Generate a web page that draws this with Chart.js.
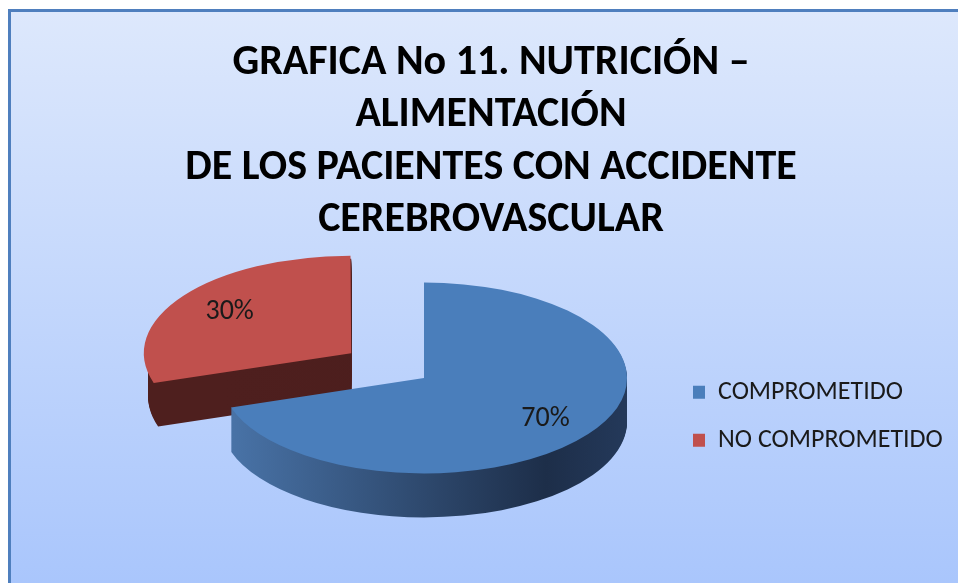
<!DOCTYPE html>
<html>
<head>
<meta charset="utf-8">
<script src="https://cdn.jsdelivr.net/npm/chart.js@4.4.1/dist/chart.umd.min.js"></script>
<style>
  html, body { margin: 0; padding: 0; background: #fff; width: 958px; height: 583px; overflow: hidden; }
  #frame {
    position: absolute; left: 8px; top: 9px; width: 980px; height: 620px;
    border-left: 3px solid #4f7fbe; border-top: 3px solid #4f7fbe;
    background: linear-gradient(#dde8fc, #a5c3fc);
  }
  #chart { position: absolute; left: 0; top: 0; }
</style>
</head>
<body>
<div id="frame"><canvas id="chart" width="960" height="600"></canvas></div>
<script>
// datos de la grafica
const categorias = ["COMPROMETIDO", "NO COMPROMETIDO"];
const porcentajes = [70, 30];
const titulo = [
  "GRAFICA No 11. NUTRICIÓN –",
  "ALIMENTACIÓN",
  "DE LOS PACIENTES CON ACCIDENTE",
  "CEREBROVASCULAR",
];

const colores = ["#4a7ebb", "#c0504d"];
// colores del borde lateral (efecto 3D)
const coloresLado = [
  [[0, "#4a75aa"], [0.8, "#1d2e49"], [1, "#24395a"]],
  [[0, "#4e1f1e"], [1, "#4a1d1c"]],
];

const fuente = "Carlito, 'Liberation Sans Narrow', 'DejaVu Sans Condensed', sans-serif";
const tamLeyenda = 26;
const cajaLeyenda = 12;
const padLeyenda = 22;
const INCLINACION = 0.47; // aplastado vertical del pastel
const PROFUNDIDAD = 44;   // grosor en px
const POS_ETIQUETA = 0.74;

// posiciones buscadas (px del canvas): centro del titulo, centro del pastel, inicio de la leyenda
const CENTRO_TITULO = 480;
const CENTRO_PASTEL = 413;
const INICIO_LEYENDA = 660;

// ancho que Chart.js dara a la leyenda
const medir = document.createElement("canvas").getContext("2d");
medir.font = tamLeyenda + "px " + fuente;
const anchoTexto = Math.max(...categorias.map((t) => medir.measureText(t).width));
const anchoLeyenda = padLeyenda + cajaLeyenda + tamLeyenda / 2 + anchoTexto + 10;
const padDer = 960 - (INICIO_LEYENDA + anchoLeyenda);
const padIzq = 2 * CENTRO_TITULO - (INICIO_LEYENDA + anchoLeyenda);
const hueco = 2 * CENTRO_PASTEL - INICIO_LEYENDA - padIzq;

function caminoSector(ctx, el) {
  const o = (el.options.offset || 0) / 4;
  const mitad = (el.startAngle + el.endAngle) / 2;
  const x = el.x + Math.cos(mitad) * o;
  const y = el.y + Math.sin(mitad) * o;
  ctx.beginPath();
  ctx.moveTo(x, y);
  ctx.arc(x, y, el.outerRadius, el.startAngle, el.endAngle);
  ctx.closePath();
}

function aplastar(ctx, el, dy) {
  ctx.translate(0, dy);
  ctx.translate(el.x, el.y);
  ctx.scale(1, INCLINACION);
  ctx.translate(-el.x, -el.y);
}

const pastel3d = {
  id: "pastel3d",
  beforeDatasetsDraw(chart) {
    const ctx = chart.ctx;
    const arcos = chart.getDatasetMeta(0).data;
    // primero el sector de atras (rojo), luego el azul
    [1, 0].forEach((i) => {
      const el = arcos[i];
      const g = ctx.createLinearGradient(el.x - el.outerRadius, 0, el.x + el.outerRadius, 0);
      coloresLado[i].forEach((s) => g.addColorStop(s[0], s[1]));
      for (let d = PROFUNDIDAD; d > 0; d--) {
        ctx.save();
        aplastar(ctx, el, d);
        caminoSector(ctx, el);
        ctx.fillStyle = g;
        ctx.fill();
        ctx.restore();
      }
    });
    ctx.save();
    aplastar(ctx, arcos[0], 0);
  },
  afterDatasetsDraw(chart) {
    const ctx = chart.ctx;
    ctx.restore();
    const arcos = chart.getDatasetMeta(0).data;
    const total = porcentajes.reduce((a, b) => a + b, 0);
    ctx.save();
    ctx.font = "28px " + fuente;
    ctx.fillStyle = "#1a1a1a";
    ctx.textAlign = "center";
    ctx.textBaseline = "middle";
    arcos.forEach((el, i) => {
      const o = (el.options.offset || 0) / 4;
      const mitad = (el.startAngle + el.endAngle) / 2;
      const r = o + POS_ETIQUETA * el.outerRadius;
      const x = el.x + Math.cos(mitad) * r;
      const y = el.y + Math.sin(mitad) * r * INCLINACION;
      ctx.fillText(Math.round((porcentajes[i] / total) * 100) + "%", x, y);
    });
    ctx.restore();
  },
};

new Chart(document.getElementById("chart"), {
  type: "pie",
  data: {
    labels: categorias,
    datasets: [
      {
        data: porcentajes,
        backgroundColor: colores,
        borderWidth: 0,
        offset: [0, 360],
        clip: false,
      },
    ],
  },
  options: {
    responsive: false,
    animation: false,
    radius: 203,
    cutout: "0%",
    layout: { padding: { left: padIzq, right: padDer, top: 0, bottom: 113 } },
    plugins: {
      title: {
        display: true,
        text: titulo,
        color: "#000",
        font: { family: fuente, size: 42, weight: "bold", lineHeight: 1.25 },
        padding: { top: 25, bottom: 10 },
      },
      // caja vacia a la izquierda para mover el pastel
      subtitle: {
        display: true,
        position: "left",
        fullSize: false,
        text: "",
        font: { size: 10, lineHeight: 1 },
        padding: { top: 0, bottom: hueco - 10 },
      },
      legend: {
        position: "right",
        fullSize: false,
        maxWidth: 1000,
        title: { display: true, text: "", font: { size: 12 }, padding: { top: 62, bottom: 0 } },
        labels: {
          color: "#1a1a1a",
          font: { family: fuente, size: tamLeyenda },
          boxWidth: cajaLeyenda,
          boxHeight: 13,
          padding: padLeyenda,
        },
      },
      tooltip: { enabled: false },
    },
  },
  plugins: [pastel3d],
});
</script>
</body>
</html>
